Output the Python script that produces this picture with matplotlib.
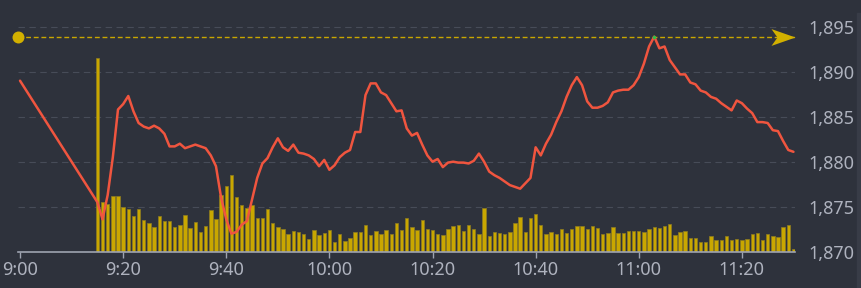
import matplotlib
matplotlib.use('Agg')
import matplotlib.pyplot as plt
from matplotlib.path import Path
from matplotlib.patches import Rectangle
from matplotlib.transforms import ScaledTranslation, blended_transform_factory

plt.rcParams['font.family'] = ['Noto Sans', 'DejaVu Sans']

# minutes after 9:00
open_min = 0
open_price = 1889.0
minutes = list(range(15, 151))   # 9:15 .. 11:30, one point per minute

price = [
    1875.5, 1873.6, 1876.3, 1880.5, 1885.8, 1886.4, 1887.3, 1885.6, 1884.3, 1883.9,
    1883.7, 1884.0, 1883.7, 1883.1, 1881.7, 1881.7, 1882.0, 1881.5, 1881.7, 1881.9,
    1881.7, 1881.5, 1880.7, 1879.5, 1876.0, 1873.6, 1872.0, 1872.2, 1873.0, 1873.4,
    1875.8, 1878.2, 1879.8, 1880.4, 1881.6, 1882.6, 1881.6, 1881.2, 1881.9, 1881.0,
    1880.9, 1880.7, 1880.3, 1879.5, 1880.2, 1879.1, 1879.6, 1880.5, 1881.0, 1881.3,
    1883.3, 1883.3, 1887.4, 1888.7, 1888.7, 1887.7, 1887.4, 1886.5, 1885.6, 1885.7,
    1883.7, 1882.9, 1883.2, 1881.9, 1880.7, 1880.0, 1880.3, 1879.4, 1879.9, 1880.0,
    1879.9, 1879.9, 1879.8, 1880.1, 1880.9, 1880.0, 1878.9, 1878.5, 1878.2, 1877.8,
    1877.4, 1877.2, 1877.0, 1877.6, 1878.2, 1881.6, 1880.7, 1882.0, 1883.0, 1884.4,
    1885.6, 1887.2, 1888.5, 1889.4, 1888.5, 1886.7, 1886.0, 1886.0, 1886.2, 1886.6,
    1887.7, 1887.9, 1888.0, 1888.0, 1888.5, 1889.4, 1890.9, 1892.8, 1893.9, 1892.6,
    1892.8, 1891.3, 1890.5, 1889.7, 1889.7, 1888.8, 1888.6, 1887.9, 1887.7, 1887.2,
    1887.0, 1886.5, 1886.1, 1885.7, 1886.8, 1886.5, 1885.9, 1885.4, 1884.4, 1884.4,
    1884.3, 1883.5, 1883.4, 1882.3, 1881.3, 1881.1,
]

volume = [
    194, 50, 48, 56, 56, 45, 43, 36, 43, 32,
    29, 25, 36, 31, 31, 24.5, 27, 36.7, 23.5, 30,
    20, 26, 41.7, 32.5, 56.8, 66, 76.5, 54.3, 47, 43.5,
    47, 34, 34, 43, 28.5, 24.3, 23, 18, 21, 19.8,
    18, 12.7, 21.3, 16.3, 19, 22, 10, 17.7, 11, 13.3,
    19.7, 19.3, 26.7, 17, 21, 18, 22, 17.7, 28.3, 21.3,
    33.8, 24.8, 21.7, 31.7, 23, 21.7, 17.3, 16.3, 22.7, 26,
    27, 21, 27, 22.7, 17.3, 44, 16, 20, 18.8, 17.8,
    20, 28.7, 34.8, 20, 34.2, 38, 26.7, 17.7, 19.8, 18.2,
    23.2, 18.7, 22.5, 25.8, 25.3, 22.3, 26.2, 24, 17.3, 19,
    24.8, 19.2, 19.2, 20.3, 20.8, 20.6, 20, 23, 24.7, 23.7,
    26.2, 27.8, 17.2, 19.8, 21, 13.7, 13.7, 10, 10, 15.5,
    11.7, 11.8, 16.2, 11.7, 12.5, 11.3, 13, 17.7, 18.7, 11.8,
    17.5, 15.7, 15.2, 24.5, 26.7, 2.7,
]

tick_min = [0, 20, 40, 60, 80, 100, 120, 140]
tick_lbl = ['9:00', '9:20', '9:40', '10:00', '10:20', '10:40', '11:00', '11:20']
price_ticks = [1870, 1875, 1880, 1885, 1890, 1895]

BG = '#2e323c'
YEL = '#c9a700'
RED = '#f0553f'
TXT = '#aeb2be'
AXC = '#9ea3b0'

fig = plt.figure(figsize=(8.61, 2.88), dpi=100, facecolor=BG)
ax_v = fig.add_axes([17.7 / 861, 36.3 / 288, 777.3 / 861, 243 / 288])
ax_v.set_facecolor(BG)
ax_p = ax_v.twinx()

x0, x1 = -0.45, 150.3
ax_v.set_xlim(x0, x1)
ax_v.set_ylim(0, 243)
ax_p.set_ylim(1870, 1897)

# grid (dashed), drawn under the bars
gtrans = blended_transform_factory(ax_v.transAxes, ax_p.transData)
for p in price_ticks[1:]:
    ax_v.plot([0, 1], [p, p], transform=gtrans, color='#474c58', lw=0.8,
              dashes=(5.8, 4), zorder=0)

ax_v.bar(minutes, volume, width=0.66, color=YEL, edgecolor='#8f7d22',
         linewidth=0.5, zorder=2)

ax_p.plot([open_min] + minutes, [open_price] + price, color=RED, lw=1.8,
          solid_joinstyle='round', solid_capstyle='round', zorder=3)

# max marker line
pmax = max(price)
tmax = minutes[price.index(pmax)]
ax_p.plot([x0, x1], [pmax, pmax], color=YEL, lw=1.0, dashes=(3.5, 2), zorder=2)
ax_p.plot([x0], [pmax], marker='o', ms=8.6, color='#d2b000', mec='none',
          clip_on=False, zorder=4)
arrow = Path([(1, 0), (-1, 0.7), (-0.5, 0), (-1, -0.7), (1, 0)],
             [Path.MOVETO, Path.LINETO, Path.LINETO, Path.LINETO, Path.CLOSEPOLY])
ax_p.plot([x1], [pmax], marker=arrow, ms=17.3, color='#d2b000', mec='none',
          clip_on=False, zorder=4,
          transform=ax_p.transData + ScaledTranslation(-0.12, 0, fig.dpi_scale_trans))
ax_p.plot([tmax], [pmax], marker='o', ms=2.5, color='#2fbf4a', mec='none', zorder=5)

# axes styling
for a in (ax_v, ax_p):
    for s in a.spines.values():
        s.set_visible(False)
ax_v.spines['bottom'].set_visible(True)
ax_v.spines['bottom'].set_color(AXC)
ax_v.spines['bottom'].set_linewidth(1.2)
ax_v.set_yticks([])
ax_v.set_xticks(tick_min)
ax_v.set_xticklabels(tick_lbl)
ax_v.tick_params(axis='x', colors=AXC, labelcolor=TXT, length=4, width=1,
                 labelsize=13, pad=3)

ax_p.set_yticks(price_ticks)
ax_p.set_yticklabels([f'{p:,}' for p in price_ticks])
ax_p.tick_params(axis='y', length=0, labelcolor=TXT, labelsize=13, pad=9.5)

fig.patches.append(Rectangle((857 / 861, 0), 4 / 861, 275 / 288,
                             transform=fig.transFigure, color='#383c47'))

plt.savefig('out.png', dpi=100, facecolor=BG)
plt.close()
